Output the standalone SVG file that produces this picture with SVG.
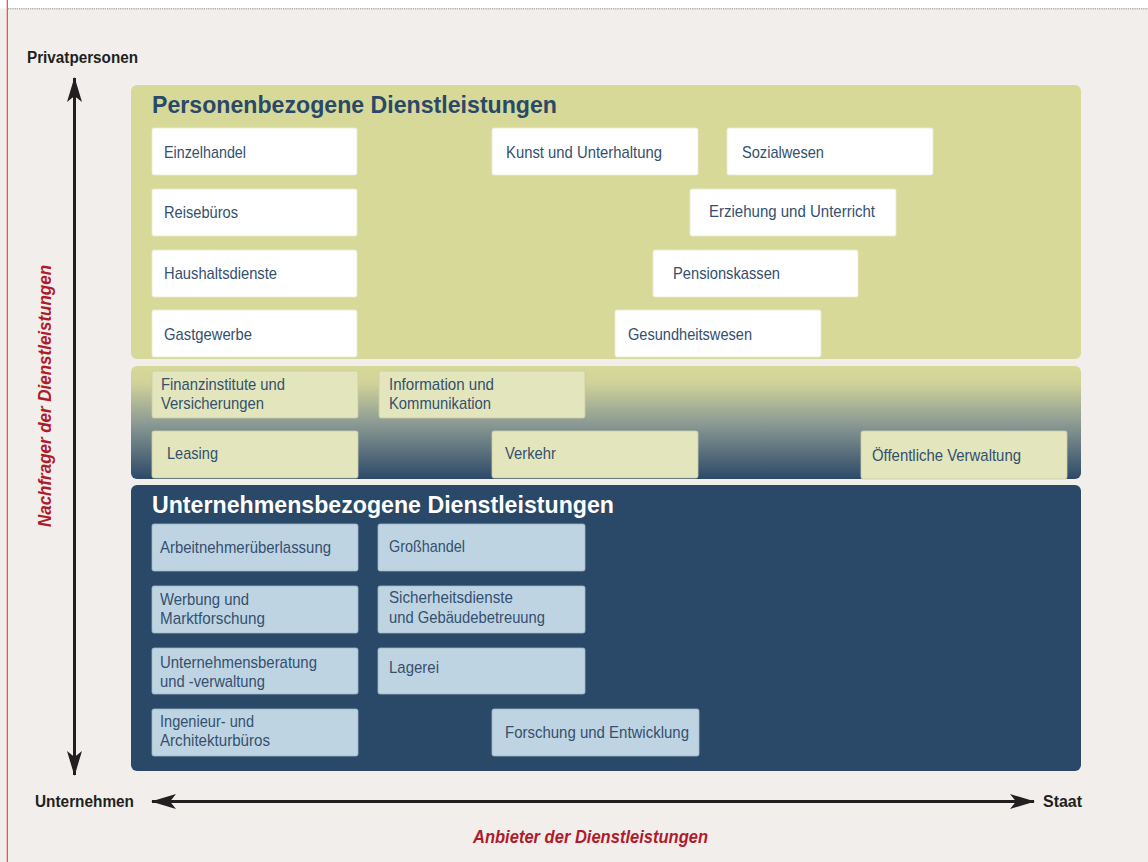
<svg xmlns="http://www.w3.org/2000/svg" width="1148" height="862" viewBox="0 0 1148 862">
  <style>
    .panel-title { font-family: "Liberation Sans", Arial, sans-serif; font-weight: bold; font-size: 24px; }
    .lbl { font-family: "Liberation Sans", Arial, sans-serif; font-size: 17px; fill: #34506f; }
    .axis { font-family: "Liberation Sans", Arial, sans-serif; font-weight: bold; font-size: 16px; fill: #231f20; }
    .axis-title { font-family: "Liberation Sans", Arial, sans-serif; font-weight: bold; font-style: italic; font-size: 18px; fill: #b01b2c; }
    .box-white { fill: #ffffff; stroke: #e9ebd0; stroke-width: 0.8; }
    .box-pale { fill: #e3e6bc; stroke: #c9cca4; stroke-width: 0.8; }
    .box-blue { fill: #bfd4e2; stroke: #9fb6c8; stroke-width: 0.8; }
    .axis-line { stroke: #231f20; stroke-width: 3; fill: none; }
  </style>
  <defs>
    <linearGradient id="midGrad" x1="0" y1="0" x2="0" y2="1">
      <stop offset="0" stop-color="#d7d999"/>
      <stop offset="0.15" stop-color="#d0d398"/>
      <stop offset="0.5" stop-color="#8d9b94"/>
      <stop offset="1" stop-color="#2c4968"/>
    </linearGradient>
    <marker id="head" viewBox="0 0 25 15" refX="24" refY="7.5" markerWidth="25" markerHeight="15" markerUnits="userSpaceOnUse" orient="auto-start-reverse">
      <path d="M0,0 L25,7.5 L0,15 L6,7.5 Z" fill="#231f20"/>
    </marker>
  </defs>

  <!-- page -->
  <rect x="0" y="0" width="1148" height="862" fill="#f2eeeb"/>
  <rect x="0" y="0" width="1148" height="8.5" fill="#ffffff"/>
  <line x1="8" y1="8.8" x2="1148" y2="8.8" stroke="#8a8a8a" stroke-width="1" stroke-dasharray="1.2 1"/>
  <line x1="7.3" y1="0" x2="7.3" y2="862" stroke="#e8464c" stroke-width="1.2"/>

  <!-- band panels -->
  <g id="panel-personen">
    <rect x="131" y="85" width="950" height="274" rx="6" fill="#d7d999"/>
    <text class="panel-title" x="152" y="113" fill="#2a4867" textLength="405" lengthAdjust="spacingAndGlyphs">Personenbezogene Dienstleistungen</text>
  </g>
  <g id="panel-mixed">
    <rect x="131" y="366" width="950" height="113" rx="6" fill="url(#midGrad)"/>
  </g>
  <g id="panel-unternehmen">
    <rect x="131" y="485" width="950" height="286" rx="6" fill="#2a4867"/>
    <text class="panel-title" x="152" y="513" fill="#ffffff" textLength="462" lengthAdjust="spacingAndGlyphs">Unternehmensbezogene Dienstleistungen</text>
  </g>

  <!-- personal services -->
  <g id="einzelhandel"><rect class="box-white" x="152" y="128" width="205" height="47" rx="2"/><text class="lbl" x="164" y="158" textLength="82" lengthAdjust="spacingAndGlyphs">Einzelhandel</text></g>
  <g id="kunst"><rect class="box-white" x="492" y="128" width="206" height="47" rx="2"/><text class="lbl" x="506" y="158" textLength="156" lengthAdjust="spacingAndGlyphs">Kunst und Unterhaltung</text></g>
  <g id="sozialwesen"><rect class="box-white" x="727" y="128" width="206" height="47" rx="2"/><text class="lbl" x="742" y="158" textLength="82" lengthAdjust="spacingAndGlyphs">Sozialwesen</text></g>
  <g id="reisebueros"><rect class="box-white" x="152" y="189" width="205" height="47" rx="2"/><text class="lbl" x="164" y="218" textLength="74" lengthAdjust="spacingAndGlyphs">Reisebüros</text></g>
  <g id="erziehung"><rect class="box-white" x="690" y="189" width="206" height="47" rx="2"/><text class="lbl" x="709" y="217" textLength="166" lengthAdjust="spacingAndGlyphs">Erziehung und Unterricht</text></g>
  <g id="haushaltsdienste"><rect class="box-white" x="152" y="250" width="205" height="47" rx="2"/><text class="lbl" x="164" y="279" textLength="113" lengthAdjust="spacingAndGlyphs">Haushaltsdienste</text></g>
  <g id="pensionskassen"><rect class="box-white" x="653" y="250" width="205" height="47" rx="2"/><text class="lbl" x="673" y="279" textLength="107" lengthAdjust="spacingAndGlyphs">Pensionskassen</text></g>
  <g id="gastgewerbe"><rect class="box-white" x="152" y="310" width="205" height="47" rx="2"/><text class="lbl" x="164" y="340" textLength="88" lengthAdjust="spacingAndGlyphs">Gastgewerbe</text></g>
  <g id="gesundheitswesen"><rect class="box-white" x="615" y="310" width="206" height="47" rx="2"/><text class="lbl" x="628" y="340" textLength="124" lengthAdjust="spacingAndGlyphs">Gesundheitswesen</text></g>

  <!-- mixed services -->
  <g id="finanzinstitute"><rect class="box-pale" x="152" y="371" width="206" height="47" rx="2"/><text class="lbl" x="161" y="390" textLength="124" lengthAdjust="spacingAndGlyphs">Finanzinstitute und</text><text class="lbl" x="161" y="409" textLength="103" lengthAdjust="spacingAndGlyphs">Versicherungen</text></g>
  <g id="information"><rect class="box-pale" x="379" y="371" width="206" height="47" rx="2"/><text class="lbl" x="389" y="390" textLength="105" lengthAdjust="spacingAndGlyphs">Information und</text><text class="lbl" x="389" y="409" textLength="102" lengthAdjust="spacingAndGlyphs">Kommunikation</text></g>
  <g id="leasing"><rect class="box-pale" x="152" y="431" width="206" height="47" rx="2"/><text class="lbl" x="167" y="459" textLength="51" lengthAdjust="spacingAndGlyphs">Leasing</text></g>
  <g id="verkehr"><rect class="box-pale" x="492" y="431" width="206" height="47" rx="2"/><text class="lbl" x="505" y="459" textLength="51" lengthAdjust="spacingAndGlyphs">Verkehr</text></g>
  <g id="verwaltung"><rect class="box-pale" x="861" y="431" width="206" height="48" rx="2"/><text class="lbl" x="872" y="461" textLength="149" lengthAdjust="spacingAndGlyphs">Öffentliche Verwaltung</text></g>

  <!-- business services -->
  <g id="arbeitnehmerueberlassung"><rect class="box-blue" x="152" y="524" width="206" height="47" rx="2"/><text class="lbl" x="160" y="553" textLength="171" lengthAdjust="spacingAndGlyphs">Arbeitnehmerüberlassung</text></g>
  <g id="grosshandel"><rect class="box-blue" x="378" y="524" width="207" height="47" rx="2"/><text class="lbl" x="389" y="552" textLength="76" lengthAdjust="spacingAndGlyphs">Großhandel</text></g>
  <g id="werbung"><rect class="box-blue" x="152" y="586" width="206" height="47" rx="2"/><text class="lbl" x="160" y="605" textLength="89" lengthAdjust="spacingAndGlyphs">Werbung und</text><text class="lbl" x="160" y="624" textLength="105" lengthAdjust="spacingAndGlyphs">Marktforschung</text></g>
  <g id="sicherheitsdienste"><rect class="box-blue" x="378" y="586" width="207" height="47" rx="2"/><text class="lbl" x="389" y="603" textLength="124" lengthAdjust="spacingAndGlyphs">Sicherheitsdienste</text><text class="lbl" x="389" y="623" textLength="156" lengthAdjust="spacingAndGlyphs">und Gebäudebetreuung</text></g>
  <g id="unternehmensberatung"><rect class="box-blue" x="152" y="648" width="206" height="46" rx="2"/><text class="lbl" x="160" y="668" textLength="157" lengthAdjust="spacingAndGlyphs">Unternehmensberatung</text><text class="lbl" x="160" y="687" textLength="105" lengthAdjust="spacingAndGlyphs">und -verwaltung</text></g>
  <g id="lagerei"><rect class="box-blue" x="378" y="648" width="207" height="46" rx="2"/><text class="lbl" x="389" y="673" textLength="50" lengthAdjust="spacingAndGlyphs">Lagerei</text></g>
  <g id="ingenieurbueros"><rect class="box-blue" x="152" y="709" width="206" height="47" rx="2"/><text class="lbl" x="160" y="727" textLength="94" lengthAdjust="spacingAndGlyphs">Ingenieur- und</text><text class="lbl" x="160" y="746" textLength="110" lengthAdjust="spacingAndGlyphs">Architekturbüros</text></g>
  <g id="forschung"><rect class="box-blue" x="492" y="709" width="207" height="47" rx="2"/><text class="lbl" x="505" y="738" textLength="184" lengthAdjust="spacingAndGlyphs">Forschung und Entwicklung</text></g>

  <!-- axes -->
  <g id="connectors">
    <line class="axis-line" x1="74.5" y1="78" x2="74.5" y2="775" marker-start="url(#head)" marker-end="url(#head)"/>
    <line class="axis-line" x1="152" y1="801.5" x2="1034" y2="801.5" marker-start="url(#head)" marker-end="url(#head)"/>
  </g>

  <g id="axis-labels">
    <text class="axis" x="27" y="63" textLength="111" lengthAdjust="spacingAndGlyphs">Privatpersonen</text>
    <text class="axis" x="35" y="807" textLength="99" lengthAdjust="spacingAndGlyphs">Unternehmen</text>
    <text class="axis" x="1043" y="807" textLength="39" lengthAdjust="spacingAndGlyphs">Staat</text>
    <text class="axis-title" x="473" y="843" textLength="235" lengthAdjust="spacingAndGlyphs">Anbieter der Dienstleistungen</text>
    <text class="axis-title" transform="translate(51 527) rotate(-90)" x="0" y="0" textLength="262" lengthAdjust="spacingAndGlyphs">Nachfrager der Dienstleistungen</text>
  </g>
</svg>
